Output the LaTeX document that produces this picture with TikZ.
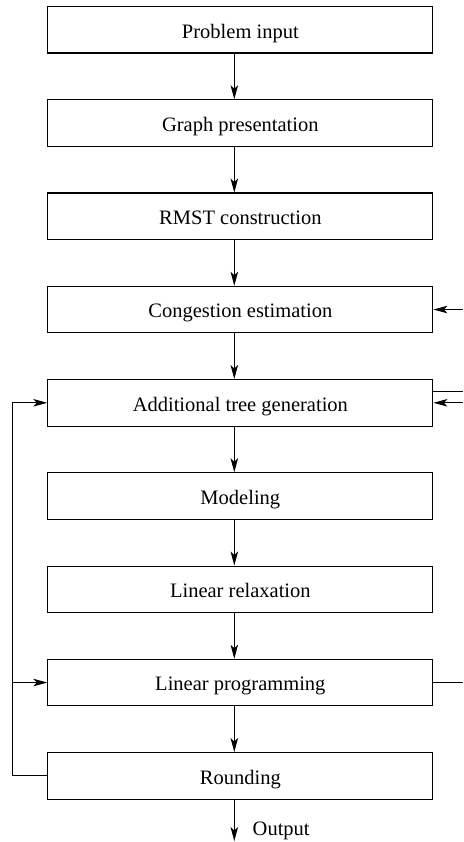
\documentclass[tikz,border=0pt]{standalone}
\usepackage{fontspec}
\setmainfont{Liberation Serif}
\usetikzlibrary{arrows.meta}
\begin{document}
\begin{tikzpicture}[x=1pt,y=-1pt,
  stepbox/.style={draw, line width=1.1pt, minimum width=385pt, minimum height=46.5pt,
    inner sep=0pt, text height=31.5pt, text depth=15pt, anchor=north west,
    font=\rmfamily\fontsize{20.5}{24}\selectfont},
  arr/.style={line width=1.1pt, -{Stealth[length=14pt,width=7.5pt,inset=3.5pt]}},
  ln/.style={line width=1.1pt}]
\useasboundingbox (0,0) rectangle (463,842);
\node[stepbox] (p1) at (47.3,6) {Problem input};
\node[stepbox] (p2) at (47.3,99.25) {Graph presentation};
\node[stepbox] (p3) at (47.3,192.5) {RMST construction};
\node[stepbox] (p4) at (47.3,285.75) {Congestion estimation};
\node[stepbox] (p5) at (47.3,379) {Additional tree generation};
\node[stepbox] (p6) at (47.3,472.25) {Modeling};
\node[stepbox] (p7) at (47.3,565.5) {Linear relaxation};
\node[stepbox] (p8) at (47.3,658.75) {Linear programming};
\node[stepbox] (p9) at (47.3,752) {Rounding};
\coordinate (rx) at (463,0);
\coordinate (lx) at (12.7,0);
\coordinate (ax) at (234.3,0);
\coordinate (outend) at (234.3,841);
\node[anchor=base west, inner sep=0pt, font=\rmfamily\fontsize{20.5}{24}\selectfont] (outlbl) at (252.5,835) {Output};
% vertical arrows
\foreach \a/\b in {p1/p2,p2/p3,p3/p4,p4/p5,p5/p6,p6/p7,p7/p8,p8/p9}{
  \draw[arr] (ax |- \a.south) -- (ax |- \b.north);
}
\draw[arr] (ax |- p9.south) -- (outend);
% right side
\draw[arr] (rx |- p4.east) -- (p4.east);
\draw[ln] ([yshift=11.5pt]p5.east) -- ([yshift=11.5pt]p5.east -| rx);
\draw[arr] (rx |- p5.east) -- (p5.east);
\draw[ln] (p8.east) -- (p8.east -| rx);
% left loop
\draw[arr] (p9.west) -- (lx |- p9.west) -- (lx |- p5.west) -- (p5.west);
\draw[arr] (lx |- p8.west) -- (p8.west);
\end{tikzpicture}
\end{document}
